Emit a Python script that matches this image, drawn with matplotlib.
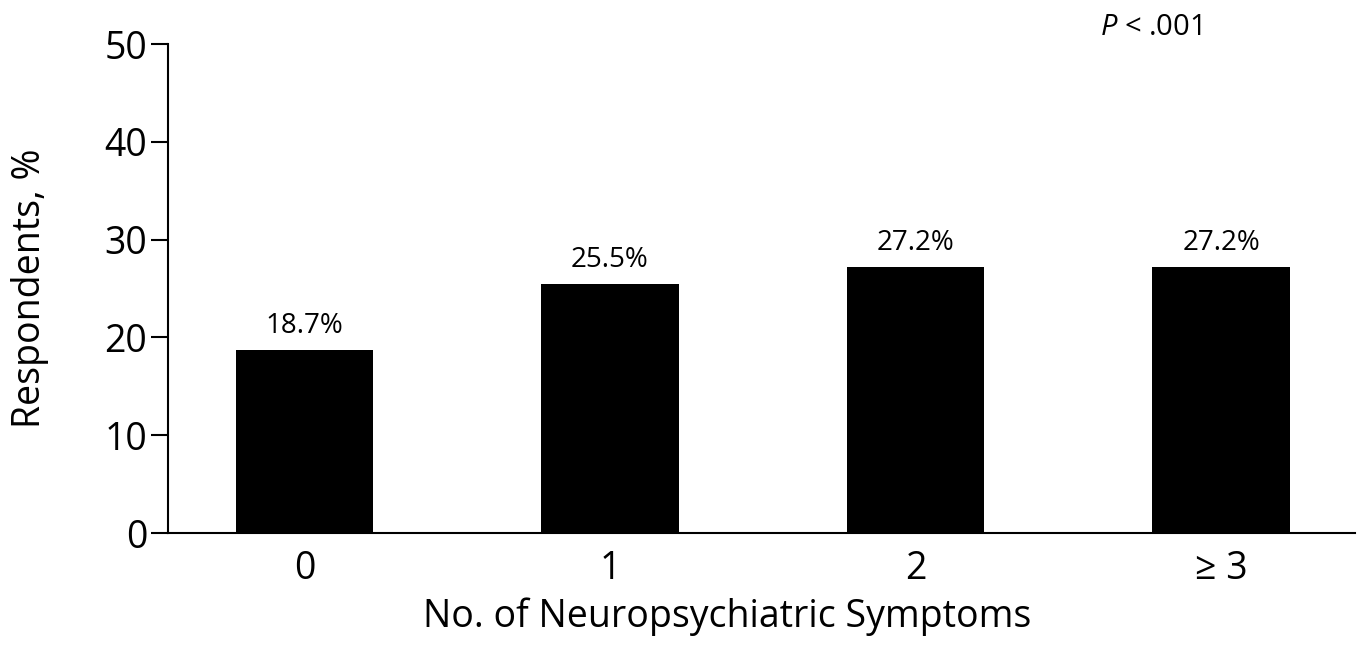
import numpy as np
import matplotlib
matplotlib.use('Agg')
import matplotlib.pyplot as plt

plt.rcParams['font.family'] = ['Open Sans', 'DejaVu Sans']
plt.rcParams['mathtext.fontset'] = 'custom'
plt.rcParams['mathtext.it'] = 'Open Sans:italic'
plt.rcParams['mathtext.rm'] = 'Open Sans'

categories = ['0', '1', '2', '\u2265 3']
values = [18.7, 25.5, 27.2, 27.2]
value_labels = ['18.7%', '25.5%', '27.2%', '27.2%']
yticks = [0, 10, 20, 30, 40, 50]

fig = plt.figure(figsize=(13.65, 6.5), dpi=100)
ax = fig.add_axes([0.123, 0.18, 0.87, 0.752])

x = np.arange(len(categories))
ax.bar(x, values, width=0.45, color='black')
for xi, v, lab in zip(x, values, value_labels):
    ax.text(xi, v + 1.0, lab, ha='center', va='bottom', fontsize=20)

ax.set_xlim(-0.447, 3.44)
ax.set_ylim(0, 50)
ax.set_yticks(yticks)
ax.set_xticks(x)
ax.set_xticklabels(categories)
ax.tick_params(axis='y', length=12, width=1.5, labelsize=27, pad=3)
ax.tick_params(axis='x', length=0, labelsize=27, pad=12)
for s in ['top', 'right']:
    ax.spines[s].set_visible(False)
for s in ['left', 'bottom']:
    ax.spines[s].set_linewidth(1.5)

ax.set_ylabel('Respondents, %', fontsize=27, labelpad=40)
ax.set_xlabel('No. of Neuropsychiatric Symptoms', fontsize=27, labelpad=7)
ax.xaxis.label.set_x(0.471)

fig.text(0.806, 0.957, r'$\mathit{P}$ < .001', ha='left', va='center', fontsize=21)

fig.savefig('out.png', dpi=100)
